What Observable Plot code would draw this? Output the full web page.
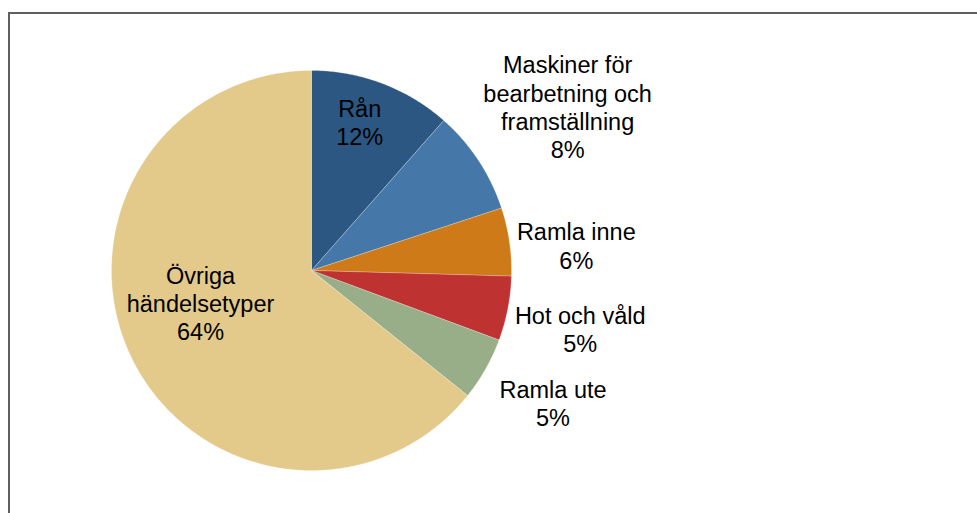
<!DOCTYPE html>
<html>
<head>
<meta charset="utf-8">
<script src="https://cdn.jsdelivr.net/npm/d3@7"></script>
<script src="https://cdn.jsdelivr.net/npm/@observablehq/plot@0.6"></script>
<style>
  html, body { margin: 0; padding: 0; background: #fff; overflow: hidden; }
  body { width: 977px; height: 513px; position: relative; }
  #frame { position: absolute; left: 8px; top: 12px; width: 1200px; height: 800px;
           border-left: 2px solid #5f5f5f; border-top: 2px solid #5f5f5f; }
  #chart { position: absolute; left: 0; top: 0; }
</style>
</head>
<body>
<div id="frame"></div>
<div id="chart"></div>
<script>
// ---- data ----
const categories = ["Rån", "Maskiner för bearbetning och framställning", "Ramla inne", "Hot och våld", "Ramla ute", "Övriga händelsetyper"];
const labelText = ["Rån", "Maskiner för\nbearbetning och\nframställning", "Ramla inne", "Hot och våld", "Ramla ute", "Övriga\nhändelsetyper"];
const shares = [11.5, 8.45, 5.5, 5.2, 5.1, 64.25];
const colors = ["#2c5783", "#4578a8", "#cf7a18", "#bf3232", "#97ae88", "#e3c98a"];

// ---- layout (label distance from centre in radii, angular nudge in degrees) ----
const labelRadius = [0.78, 1.52, 1.33, 1.375, 1.377, 0.578];
const labelNudge = [-2.7, 0.8, 2.9, 1.3, -0.8, 9.4];

const W = 977, H = 513, CX = 311, CY = 270, R = 200;

const total = d3.sum(shares);
let acc = 0;
const slices = categories.map((name, i) => {
  const a0 = acc / total * 2 * Math.PI;
  acc += shares[i];
  const a1 = acc / total * 2 * Math.PI;
  return {name, i, a0, a1, share: shares[i]};
});

const polys = [];
for (const s of slices) {
  polys.push({name: s.name, x: 0, y: 0});
  const n = Math.max(2, Math.ceil((s.a1 - s.a0) / (Math.PI / 360)));
  for (let k = 0; k <= n; k++) {
    const a = s.a0 + (s.a1 - s.a0) * k / n;
    polys.push({name: s.name, x: Math.sin(a), y: Math.cos(a)});
  }
  polys.push({name: s.name, x: 0, y: 0});
}

const labels = slices.map(s => {
  const a = (s.a0 + s.a1) / 2 + labelNudge[s.i] * Math.PI / 180;
  const r = labelRadius[s.i];
  return {x: r * Math.sin(a), y: r * Math.cos(a), text: labelText[s.i] + "\n" + Math.round(s.share) + "%"};
});

const chart = Plot.plot({
  width: W,
  height: H,
  margin: 0,
  x: {domain: [-CX / R, (W - CX) / R], axis: null},
  y: {domain: [-(H - CY) / R, CY / R], axis: null},
  color: {domain: categories, range: colors},
  style: {background: "transparent"},
  marks: [
    Plot.line(polys, {x: "x", y: "y", z: "name", fill: "name", stroke: "#ffffff", strokeWidth: 0.4, strokeOpacity: 0.6, curve: "linear"}),
    Plot.text(labels, {x: "x", y: "y", text: "text", fill: "#000", fontSize: 23.5, lineHeight: 1.2,
      fontFamily: "'Liberation Sans', Arial, sans-serif", textAnchor: "middle", lineAnchor: "middle"})
  ]
});
document.getElementById("chart").appendChild(chart);
</script>
</body>
</html>
